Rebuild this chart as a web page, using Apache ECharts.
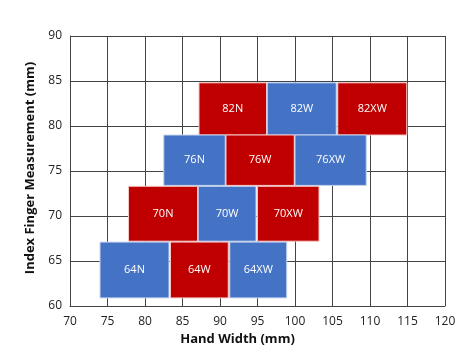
<!DOCTYPE html>
<html><head><meta charset="utf-8">
<script src="https://cdn.jsdelivr.net/npm/echarts@6/dist/echarts.min.js"></script>
<style>html,body{margin:0;padding:0;background:#fff}#c{width:475px;height:357px}</style>
</head><body><div id="c"></div>
<script>
const labels = ['82N','82W','82XW','76N','76W','76XW','70N','70W','70XW','64N','64W','64XW'];
const xStart = [87.2, 96.3, 105.7, 82.5, 90.8, 100.0, 77.8, 87.1, 95.0, 74.0, 83.4, 91.3];
const xEnd   = [96.2, 105.5, 114.9, 90.7, 99.9, 109.5, 87.0, 94.8, 103.2, 83.2, 91.1, 98.9];
const yStart = [79.0, 79.0, 79.0, 73.4, 73.4, 73.4, 67.2, 67.2, 67.2, 60.9, 60.9, 60.9];
const yEnd   = [84.8, 84.8, 84.8, 79.0, 79.0, 79.0, 73.3, 73.3, 73.3, 67.1, 67.1, 67.1];
const colorKey = ['red','blue','red','blue','red','blue','red','blue','red','blue','red','blue'];
const palette = {red:'#C00000', blue:'#4472C4'};

const data = labels.map((l,i)=>[xStart[i], xEnd[i], yStart[i], yEnd[i], l, colorKey[i]]);
const chart = echarts.init(document.getElementById('c'));
const font = '"Open Sans", "Noto Sans", sans-serif';
chart.setOption({
  animation:false,
  grid:{left:70, right:30, top:36, bottom:51},
  xAxis:{type:'value', min:70, max:120, interval:5,
    name:'Hand Width (mm)', nameLocation:'middle', nameGap:27,
    nameTextStyle:{fontFamily:font, fontWeight:'bold', fontSize:13, color:'#111', padding:[0,40,0,0]},
    axisLine:{show:true, lineStyle:{color:'#444', width:1}},
    axisTick:{show:false},
    axisLabel:{fontFamily:font, fontSize:12, color:'#222', margin:10},
    splitLine:{show:true, lineStyle:{color:'#444', width:1}}},
  yAxis:{type:'value', min:60, max:90, interval:5,
    name:'Index Finger Measurement (mm)', nameLocation:'middle', nameGap:33,
    nameTextStyle:{fontFamily:font, fontWeight:'bold', fontSize:13, color:'#111', padding:[0,0,0,6]},
    axisLine:{show:true, lineStyle:{color:'#444', width:1}},
    axisTick:{show:false},
    axisLabel:{fontFamily:font, fontSize:12, color:'#222', margin:8},
    splitLine:{show:true, lineStyle:{color:'#444', width:1}}},
  series:[{
    type:'custom',
    data:data,
    encode:{x:[0,1], y:[2,3]},
    renderItem:function(params, api){
      const p0 = api.coord([api.value(0), api.value(3)]);
      const p1 = api.coord([api.value(1), api.value(2)]);
      const ck = data[params.dataIndex][5];
      return {
        type:'group',
        children:[{
          type:'rect',
          shape:{x:p0[0], y:p0[1], width:p1[0]-p0[0], height:p1[1]-p0[1]},
          style:{fill:palette[ck], stroke:ck==='red'?'#f4c7c7':'#c9d6ee', lineWidth:1}
        },{
          type:'text',
          style:{text:data[params.dataIndex][4], x:(p0[0]+p1[0])/2, y:(p0[1]+p1[1])/2,
            align:'center', verticalAlign:'middle', fill:'#fff', fontSize:11, fontFamily:font}
        }]
      };
    }
  }]
});
</script></body></html>
